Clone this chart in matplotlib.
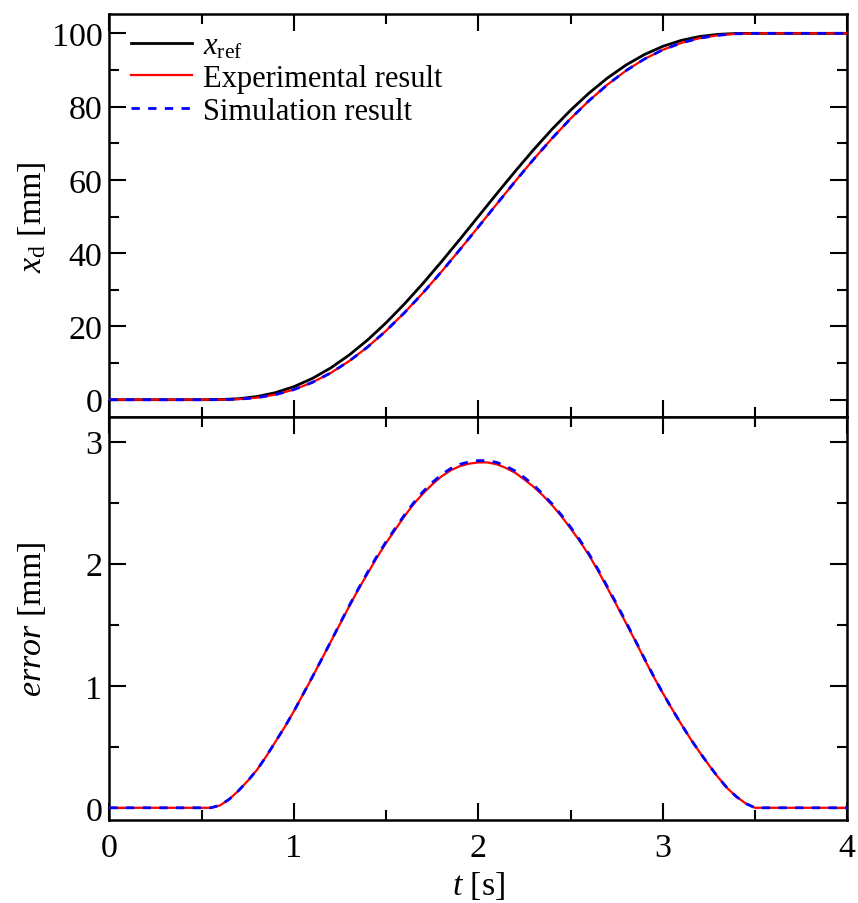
import matplotlib
matplotlib.use("Agg")
import matplotlib.pyplot as plt
from matplotlib.ticker import MultipleLocator

plt.rcParams['font.family'] = ['Liberation Serif', 'DejaVu Serif']
plt.rcParams['mathtext.fontset'] = 'custom'
plt.rcParams['mathtext.rm'] = 'Liberation Serif'
plt.rcParams['mathtext.it'] = 'Liberation Serif:italic'

# ---- data ----
t_pos = [0.0, 0.5, 0.6, 0.7, 0.8, 0.9, 1.0, 1.1, 1.2, 1.3, 1.4, 1.5, 1.6, 1.7, 1.8,
         1.9, 2.0, 2.1, 2.2, 2.3, 2.4, 2.5, 2.6, 2.7, 2.8, 2.9, 3.0, 3.1, 3.2,
         3.3, 3.4, 3.5, 4.0]
x_ref = [0.0, 0.0, 0.04, 0.27, 0.86, 1.92, 3.55, 5.79, 8.67, 12.19, 16.31, 20.99,
         26.16, 31.74, 37.65, 43.77, 50.0, 56.23, 62.35, 68.26, 73.84, 79.01,
         83.69, 87.81, 91.33, 94.21, 96.45, 98.08, 99.14, 99.73, 99.97, 100.0, 100.0]
x_exp = [0.0, 0.0, 0.02, 0.14, 0.55, 1.38, 2.76, 4.72, 7.31, 10.54, 14.39, 18.82,
         23.77, 29.16, 34.93, 40.97, 47.17, 53.42, 59.61, 65.63, 71.36, 76.72,
         81.62, 86.01, 89.81, 92.99, 95.51, 97.39, 98.69, 99.48, 99.88, 100.0, 100.0]
x_sim = [0.0, 0.0, 0.02, 0.14, 0.55, 1.38, 2.75, 4.71, 7.30, 10.53, 14.38, 18.81,
         23.76, 29.14, 34.91, 40.95, 47.15, 53.40, 59.59, 65.61, 71.35, 76.71,
         81.61, 86.00, 89.80, 92.98, 95.50, 97.38, 98.69, 99.48, 99.88, 100.0, 100.0]

t_err = [0.0, 0.50, 0.55, 0.60, 0.65, 0.70, 0.75, 0.80, 0.85, 0.90, 0.95, 1.00,
         1.05, 1.10, 1.15, 1.20, 1.25, 1.30, 1.35, 1.40, 1.45, 1.50, 1.55, 1.60,
         1.65, 1.70, 1.75, 1.80, 1.85, 1.90, 1.95, 2.00, 2.05, 2.10, 2.15, 2.20,
         2.25, 2.30, 2.35, 2.40, 2.45, 2.50, 2.55, 2.60, 2.65, 2.70, 2.75, 2.80,
         2.85, 2.90, 2.95, 3.00, 3.05, 3.10, 3.15, 3.20, 3.25, 3.30, 3.35, 3.40,
         3.45, 3.50, 4.0]
err_exp = [0.0, 0.0, 0.0, 0.02, 0.07, 0.14, 0.22, 0.31, 0.42, 0.54, 0.66, 0.79,
           0.93, 1.07, 1.215, 1.36, 1.505, 1.65, 1.79, 1.92, 2.05, 2.17, 2.28, 2.39,
           2.49, 2.575, 2.65, 2.715, 2.765, 2.80, 2.82, 2.83, 2.83, 2.815, 2.785, 2.745,
           2.69, 2.63, 2.56, 2.48, 2.39, 2.29, 2.185, 2.07, 1.94, 1.80, 1.66, 1.515,
           1.37, 1.22, 1.075, 0.94, 0.81, 0.685, 0.565, 0.455, 0.35, 0.25, 0.16, 0.09,
           0.035, 0.0, 0.0]
err_sim = [0.0, 0.0, 0.0, 0.02, 0.07, 0.14, 0.22, 0.31, 0.42, 0.54, 0.66, 0.79,
           0.93, 1.07, 1.215, 1.36, 1.51, 1.655, 1.795, 1.93, 2.06, 2.18, 2.29, 2.40,
           2.50, 2.59, 2.665, 2.73, 2.78, 2.815, 2.835, 2.845, 2.845, 2.83, 2.80, 2.76,
           2.705, 2.645, 2.57, 2.49, 2.40, 2.30, 2.195, 2.08, 1.95, 1.81, 1.67, 1.525,
           1.375, 1.225, 1.08, 0.94, 0.81, 0.685, 0.565, 0.455, 0.35, 0.25, 0.16, 0.09,
           0.035, 0.0, 0.0]

fig = plt.figure(figsize=(8.58, 9.04), dpi=100)
L, R = 109.3 / 858, 847.3 / 858
top_t, mid, bot = 1 - 15.3 / 904, 1 - 418.3 / 904, 1 - 821.0 / 904
ax1 = fig.add_axes([L, mid, R - L, top_t - mid])
ax2 = fig.add_axes([L, bot, R - L, mid - bot], sharex=ax1)

FS = 24.5
LFS = 22
for ax in (ax1, ax2):
    ax.tick_params(which='both', direction='in', top=True, right=True, width=1.5,
                   labelsize=FS)
    ax.tick_params(axis='y', which='both', pad=5)
    ax.tick_params(axis='x', which='both', pad=9)
    ax.tick_params(which='major', length=12)
    ax.tick_params(which='minor', length=7)
    for s in ax.spines.values():
        s.set_linewidth(1.8)

ax1.plot(t_pos, x_ref, color='black', lw=2.0, label=r'$x_{\mathrm{ref}}$', zorder=2)
ax1.plot(t_pos, x_exp, color='red', lw=1.6, label='Experimental result', zorder=3)
ax1.plot(t_pos, x_sim, color='blue', lw=2.0, ls=(0, (3, 3)), label='Simulation result', zorder=4)
ax1.set_ylim(-4.8, 105.2)
ax1.yaxis.set_major_locator(MultipleLocator(20))
ax1.yaxis.set_minor_locator(MultipleLocator(10))
ax1.set_ylabel(r'$x_{\mathrm{d}}$ [mm]', fontsize=FS)
plt.setp(ax1.get_xticklabels(), visible=False)
ax1.legend(loc='upper left', frameon=False, fontsize=LFS, handlelength=2.0,
           handletextpad=0.35, labelspacing=0.12, borderaxespad=0.0,
           borderpad=0.0, bbox_to_anchor=(22 / 738, 1 - 17 / 403))

ax2.plot(t_err, err_exp, color='red', lw=1.6, zorder=3)
ax2.plot(t_err, err_sim, color='blue', lw=2.0, ls=(0, (3, 3)), zorder=4)
ax2.set_ylim(-0.1, 3.2)
ax2.yaxis.set_major_locator(MultipleLocator(1))
ax2.yaxis.set_minor_locator(MultipleLocator(0.5))
ax2.set_xlim(0, 4)
ax2.xaxis.set_major_locator(MultipleLocator(1))
ax2.xaxis.set_minor_locator(MultipleLocator(0.5))
ax2.set_ylabel(r'$error$ [mm]', fontsize=FS)
ax2.set_xlabel(r'$t$ [s]', fontsize=FS, labelpad=4)

lx = (48 - 109.3) / 738
ax1.yaxis.set_label_coords(lx, 0.5)
ax2.yaxis.set_label_coords(lx, 0.5)

fig.savefig('out.png', dpi=100)
